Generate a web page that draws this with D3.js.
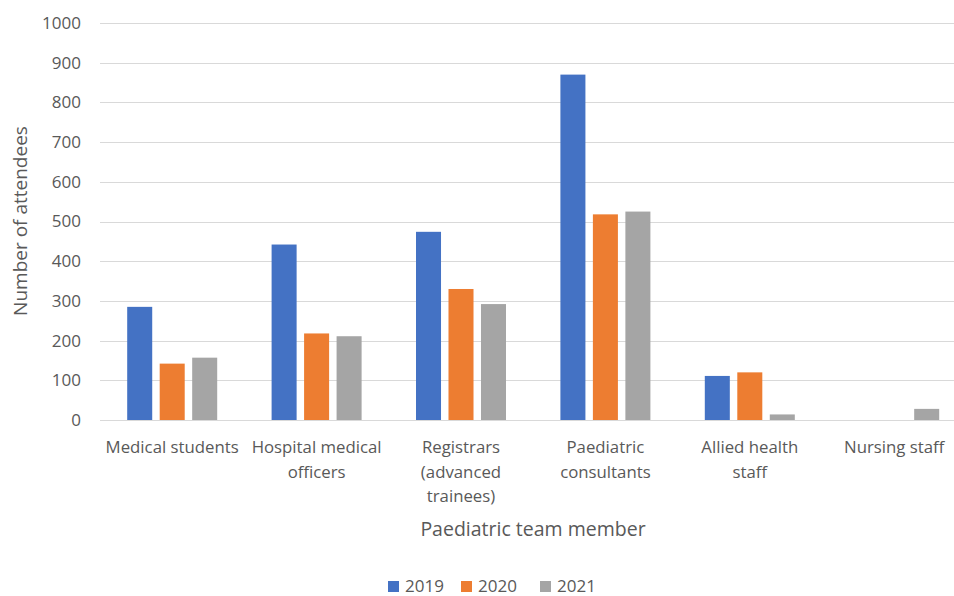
<!DOCTYPE html>
<html>
<head>
<meta charset="utf-8">
<script src="https://cdn.jsdelivr.net/npm/d3@7"></script>
<style>
  html, body { margin: 0; padding: 0; background: #fff; }
  svg { display: block; font-family: "Open Sans", "Noto Sans", sans-serif; }
</style>
</head>
<body>
<svg id="chart" width="954" height="596"></svg>
<script>
// Attendees by paediatric team member, per year
const categories = [
  ["Medical students"],
  ["Hospital medical", "officers"],
  ["Registrars", "(advanced", "trainees)"],
  ["Paediatric", "consultants"],
  ["Allied health", "staff"],
  ["Nursing staff"]
];
const years = ["2019", "2020", "2021"];
const values2019 = [285, 442, 474, 870, 111, 0];
const values2020 = [142, 218, 330, 518, 120, 0];
const values2021 = [157, 211, 292, 525, 14, 28];
const yTicks = [0, 100, 200, 300, 400, 500, 600, 700, 800, 900, 1000];
const colors = ["#4472C4", "#ED7D31", "#A5A5A5"];

const series = [values2019, values2020, values2021];
const catKeys = categories.map(c => c.join(" "));

const svg = d3.select("#chart");
const textColor = "#595959";
const gridColor = "#d9d9d9";

const x0 = d3.scaleBand().domain(catKeys).range([100, 966.4]).padding(0);
const x1 = d3.scaleBand().domain(years).range([27.2, 117.2]).paddingInner(0.23).paddingOuter(0);
const y = d3.scaleLinear().domain([0, 1000]).range([420, 23]);

// Horizontal gridlines
svg.append("g")
  .selectAll("line")
  .data(yTicks)
  .join("line")
  .attr("x1", 100).attr("x2", 954)
  .attr("y1", d => Math.round(y(d)) + 0.5).attr("y2", d => Math.round(y(d)) + 0.5)
  .attr("stroke", gridColor).attr("stroke-width", 1.2);

// Y axis tick labels
const yAxis = d3.axisLeft(y).tickValues(yTicks).tickSize(0).tickPadding(0).tickFormat(d3.format("d"));
const yg = svg.append("g").attr("transform", "translate(81,0)").call(yAxis);
yg.select(".domain").remove();
yg.selectAll("text")
  .attr("fill", textColor)
  .attr("font-size", 17)
  .attr("font-family", "Open Sans, sans-serif");

// Bars
const groups = svg.append("g")
  .selectAll("g")
  .data(catKeys)
  .join("g")
  .attr("transform", d => `translate(${x0(d)},0)`);

groups.selectAll("rect")
  .data((d, i) => years.map((yr, s) => ({ yr, v: series[s][i], s })))
  .join("rect")
  .attr("x", d => x1(d.yr))
  .attr("width", x1.bandwidth())
  .attr("y", d => y(d.v))
  .attr("height", d => y(0) - y(d.v))
  .attr("fill", d => colors[d.s]);

// Category labels (multi-line)
const xl = svg.append("g")
  .selectAll("text")
  .data(categories)
  .join("text")
  .attr("x", (d, i) => x0(catKeys[i]) + x0.bandwidth() / 2)
  .attr("y", 453)
  .attr("text-anchor", "middle")
  .attr("fill", textColor)
  .attr("font-size", 16.8);
xl.selectAll("tspan")
  .data(d => d)
  .join("tspan")
  .attr("x", function () { return d3.select(this.parentNode).attr("x"); })
  .attr("dy", (d, i) => i === 0 ? 0 : 24.5)
  .text(d => d);

// Axis titles
svg.append("text")
  .attr("x", 533).attr("y", 536)
  .attr("text-anchor", "middle")
  .attr("fill", textColor)
  .attr("font-size", 19.5)
  .text("Paediatric team member");

svg.append("text")
  .attr("transform", "translate(27,221) rotate(-90)")
  .attr("text-anchor", "middle")
  .attr("fill", textColor)
  .attr("font-size", 19)
  .text("Number of attendees");

// Legend
const legendX = [388, 461, 540];
const legend = svg.append("g")
  .selectAll("g")
  .data(years)
  .join("g")
  .attr("transform", (d, i) => `translate(${legendX[i]},581)`);
legend.append("rect")
  .attr("width", 11).attr("height", 11)
  .attr("fill", (d, i) => colors[i]);
legend.append("text")
  .attr("x", 17).attr("y", 11)
  .attr("fill", textColor)
  .attr("font-size", 17)
  .text(d => d);
</script>
</body>
</html>
